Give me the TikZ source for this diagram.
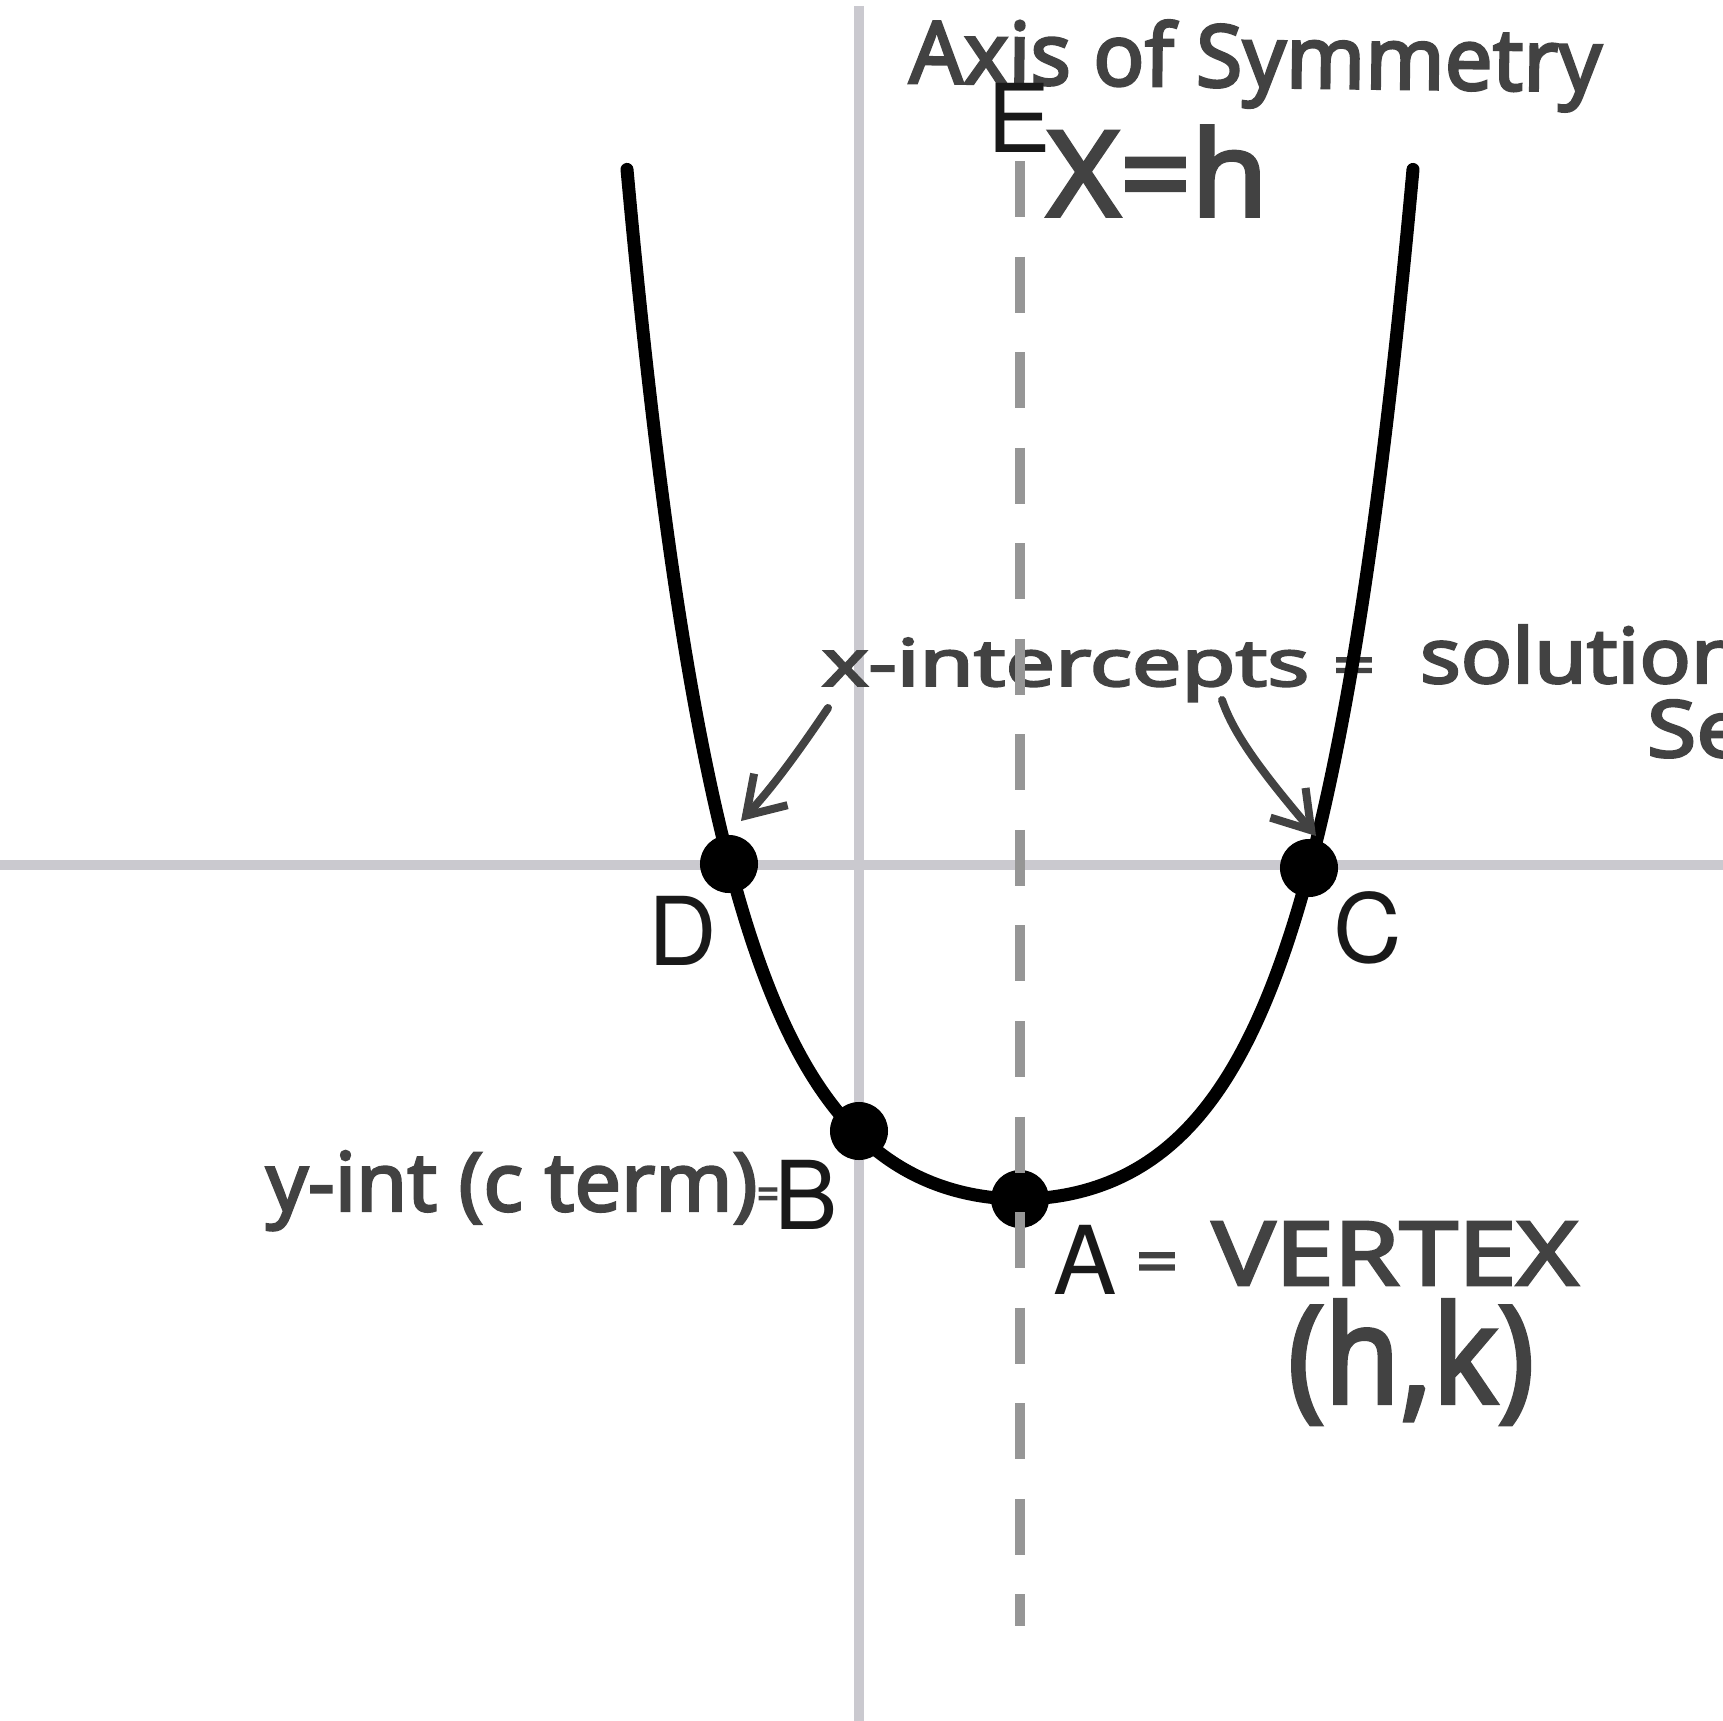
\documentclass[tikz,border=0pt]{standalone}
\usepackage{fontspec}
\usepackage{graphicx}
\newfontfamily\handfont[FakeBold=3]{Noto Sans}
\newfontfamily\labfont{TeX Gyre Heros}
\usetikzlibrary{arrows.meta}
\definecolor{axisgray}{RGB}{202,201,207}
\definecolor{dashgray}{RGB}{150,150,150}
\definecolor{ink}{RGB}{66,66,66}
\definecolor{labcol}{RGB}{25,25,25}
\newcommand{\hw}[3]{\resizebox{#1cm}{#2cm}{\handfont #3}}
\begin{document}
\begin{tikzpicture}[x=0.01cm, y=-0.01cm,
  hwtext/.style={inner sep=0, outer sep=0, anchor=base west, text=ink},
  lab/.style={inner sep=0, text=labcol, font=\labfont\fontsize{27}{30}\selectfont},
  dot/.style={circle, fill=black, minimum size=0.58cm, inner sep=0},
  axisline/.style={line width=0.1cm, draw=axisgray},
  symaxis/.style={line width=0.1cm, draw=dashgray, dash pattern=on 0.56cm off 0.395cm},
  curveline/.style={line width=0.13cm, line cap=round, draw=black},
  notearrow/.style={draw=ink, line width=0.08cm, line cap=round, line join=round,
    -{Straight Barb[length=0.36cm,width=0.46cm]}}]
\useasboundingbox (0,0) rectangle (1723,1721);
\clip (0,0) rectangle (1723,1721);
\fill[white] (0,0) rectangle (1723,1721);
% axes
\draw[axisline] (0,865) -- (1723,865);
\draw[axisline] (859,6) -- (859,1721);
% handwriting
\node[hwtext, rotate=-0.7] (axislbl) at (909,83) {\hw{6.92}{0.66}{Axis of Symmetry}};
\node[hwtext] (xeqh) at (1047,216) {\hw{2.21}{0.90}{X=h}};
\node[hwtext] (xint) at (822,686) {\hw{4.87}{0.48}{x-intercepts}};
\node[hwtext] (eqs) at (1333,684) {\hw{0.42}{0.26}{=}};
\node[hwtext] (sol) at (1420,683) {\hw{3.64}{0.58}{solutions}};
\node[hwtext] (se) at (1647,757) {\hw{1.00}{0.57}{Se}};
\node[hwtext] (yint) at (266,1211) {\hw{4.91}{0.60}{y-int (c term)}};
\node[hwtext] (eqb) at (757,1209) {\hw{0.22}{0.21}{=}};
\node[hwtext] (eqa) at (1136,1283) {\hw{0.42}{0.30}{=}};
\node[hwtext] (vertex) at (1212,1285) {\hw{3.66}{0.63}{VERTEX}};
\node[hwtext] (hk) at (1288,1403) {\hw{2.46}{1.03}{(h,k)}};
% curve
\draw[curveline] plot[domain=-393:393, samples=220, smooth]
  ({1020+\x}, {1199 - 37.1*(0.5*(exp(\x/97)+exp(-\x/97))-1)});
% points
\node[dot] (D) at (729,864) {};
\node[dot] (C) at (1309,868) {};
\node[dot] (B) at (859,1131) {};
\node[dot] (A) at (1020,1199) {};
% axis of symmetry
\draw[symaxis] (1020,161) -- (1020,1626);
% labels
\node[lab] (Dl) at (683,931) {D};
\node[lab] (Cl) at (1368,928) {C};
\node[lab] (El) at (1019,118) {E};
\node[lab] (Bl) at (806,1195) {B};
\node[lab] (Al) at (1085,1260) {A};
% arrows
\coordinate (ltail) at (828,708);
\coordinate (ltip) at (741,821);
\coordinate (rtail) at (1222,700);
\coordinate (rtip) at (1316,836);
\draw[notearrow] (ltail) .. controls (805,742) and (775,785) .. (ltip);
\draw[notearrow] (rtail) .. controls (1234,735) and (1262,772) .. (rtip);
\end{tikzpicture}
\end{document}
